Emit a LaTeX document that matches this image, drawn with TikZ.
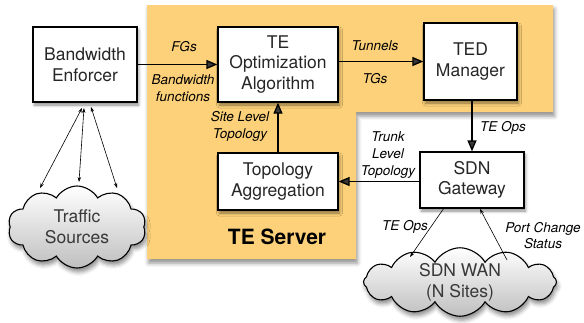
\documentclass[tikz,border=0pt]{standalone}
\usepackage{fontspec}
\setmainfont{TeX Gyre Heros}
\usetikzlibrary{arrows.meta,shapes.symbols,shadows.blur}
\definecolor{teorange}{RGB}{252,209,121}
\begin{document}
\begin{tikzpicture}[x=1pt,y=-1pt,
  box/.style={draw=black, line width=1.3pt, fill=white, align=center,
    font=\fontsize{17.5}{20.7}\selectfont, text=black!85, inner sep=0pt,
    blur shadow={shadow xshift=1.5pt, shadow yshift=-3pt, shadow blur radius=3pt, shadow opacity=45}},
  lab/.style={font=\fontsize{13.5}{16.7}\selectfont\itshape, align=center, inner sep=0pt},
  flow/.style={line width=1.3pt, -{Triangle[length=11pt,width=9pt]}},
  thinarr/.style={line width=0.6pt, -{Stealth[length=5pt,width=3.5pt]}},
  thinboth/.style={line width=0.6pt, {Stealth[length=5pt,width=3.5pt]}-{Stealth[length=5pt,width=3.5pt]}},
  cloudy/.style={cloud, cloud ignores aspect, draw=black, line width=1.1pt,
    top color=white, bottom color=black!25, align=center, inner sep=0pt,
    font=\fontsize{17.5}{20.7}\selectfont, text=black!78,
    blur shadow={shadow xshift=1.5pt, shadow yshift=-4pt, shadow blur radius=4pt, shadow opacity=45}}]
\useasboundingbox (0,0) rectangle (584,322);
% TE server region
\fill[teorange, blur shadow={shadow xshift=1.5pt, shadow yshift=-4pt, shadow blur radius=4pt, shadow opacity=45}]
  (147,5) -- (553,5) -- (553,112) -- (356,112) -- (356,259) -- (147,259) -- cycle;
\node[font=\fontsize{21}{24}\selectfont\bfseries, inner sep=0pt] (srv) at (277,237) {TE Server};
% boxes
\node[box, minimum width=104pt, minimum height=75pt] (be) at (85,64.5) {Bandwidth\\Enforcer};
\node[box, minimum width=120pt, minimum height=75pt] (teo) at (278,64.5) {TE\\Optimization\\Algorithm};
\node[box, minimum width=93pt, minimum height=77pt] (ted) at (470.5,61.5) {TED\\Manager};
\node[box, minimum width=120pt, minimum height=57pt] (ta) at (278,181.5) {Topology\\Aggregation};
\node[box, minimum width=104pt, minimum height=56pt] (sdn) at (472,180) {SDN\\Gateway};
% clouds
\node[cloudy, cloud puffs=10, cloud puff arc=120, minimum width=138pt, minimum height=82pt] (ts) at (77,227) {Traffic\\Sources};
\node[cloudy, cloud puffs=12, cloud puff arc=120, minimum width=193pt, minimum height=62pt] (wan) at (460,282) {SDN WAN\\(N Sites)};
% flows
\draw[flow] (be.east) -- (teo.west);
\draw[flow] (teo.east |- ted.west) -- (ted.west);
\draw[flow] (ted.south -| sdn.north) -- (sdn.north);
\draw[flow] (sdn.west |- ta.east) -- (ta.east);
\draw[flow] (ta.north) -- (teo.south);
% thin arrows to traffic sources
\coordinate (b1) at (82,108);
\coordinate (b2) at (84,108);
\coordinate (b3) at (91,107);
\coordinate (c1) at (40,188);
\coordinate (c2) at (79,182);
\coordinate (c3) at (117,188);
\draw[thinboth] (b1) -- (c1);
\draw[thinboth] (b2) -- (c2);
\draw[thinboth] (b3) -- (c3);
% thin arrows to WAN
\coordinate (s1) at (444,208);
\coordinate (w1) at (410,257);
\coordinate (w2) at (507,260);
\coordinate (s2) at (480,209);
\draw[thinarr] (s1) -- (w1);
\draw[thinarr] (w2) -- (s2);
% labels
\node[lab] (lfg) at (184,47) {FGs};
\node[lab] (lbf) at (183,88.5) {Bandwidth\\functions};
\node[lab] (lsl) at (240,126.5) {Site Level\\Topology};
\node[lab] (ltu) at (375,46) {Tunnels};
\node[lab] (ltg) at (375,79) {TGs};
\node[lab] (lto) at (503,128) {TE Ops};
\node[lab] (ltl) at (388,155) {Trunk\\Level\\Topology};
\node[lab] (lto2) at (405,227) {TE Ops};
\node[lab] (lpc) at (543,235.5) {Port Change\\Status};
\end{tikzpicture}
\end{document}
